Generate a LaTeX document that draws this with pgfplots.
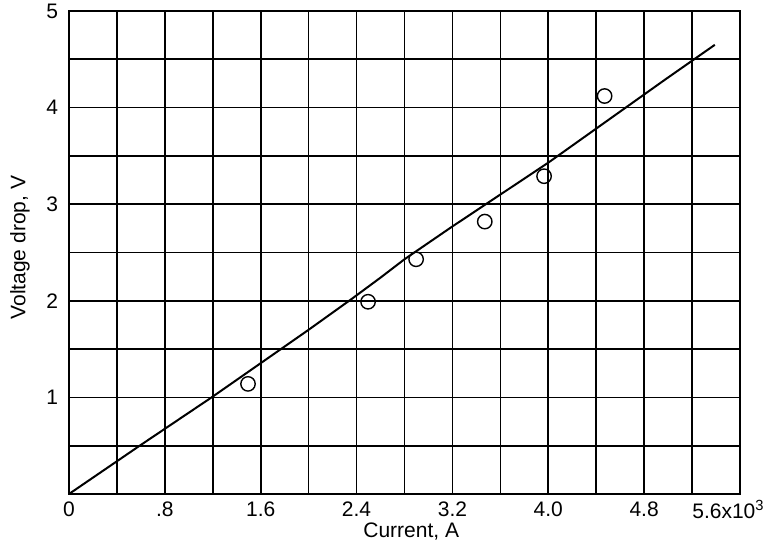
\documentclass[border=0pt]{standalone}
\usepackage{fontspec}
\setmainfont{Liberation Sans}
\usepackage{pgfplots}
\pgfplotsset{compat=1.18}
\begin{document}
\begin{tikzpicture}
\begin{axis}[
  scale only axis,
  width=335.5pt, height=241.5pt,
  xmin=0, xmax=5.6, ymin=0, ymax=5,
  xtick={0,0.4,...,5.6},
  xticklabels={0,,.8,,1.6,,2.4,,3.2,,4.0,,4.8,,},
  ytick={0,0.5,...,5},
  yticklabels={,,1,,2,,3,,4,,5},
  grid=major,
  major grid style={black, line width=0.85pt},
  axis line style={black, line width=1pt},
  major tick length=0pt,
  /pgf/number format/assume math mode=true,
  tick label style={font=\fontsize{10.5}{12}\selectfont},
  xticklabel style={text height=7.5pt, text depth=0pt, yshift=0pt},
  yticklabel style={xshift=-2pt},
  label style={font=\fontsize{10.5}{12}\selectfont},
  xlabel={Current, A},
  ylabel={Voltage drop, V},
  xlabel style={at={(axis description cs:0.51,-0.078)}, anchor=center},
  ylabel style={at={(axis description cs:-0.073,0.51)}, anchor=center},
  clip=false,
]
\coordinate (O) at (rel axis cs:0,0);
\addplot[black, line width=1pt, no markers] coordinates {
  (0,0) (0.59,0.5) (1.19,1.0) (2.0,1.70) (2.36,2.02) (2.6,2.24) (2.8,2.43)
  (3.2,2.77) (4.0,3.43) (4.975,4.29) (5.39,4.65)
};
\addplot[only marks, mark=o, mark size=3.6pt, black, line width=0.7pt] coordinates {
  (1.494,1.14) (2.496,1.99) (2.897,2.43) (3.47,2.82) (3.965,3.29) (4.47,4.12)
};
\node[anchor=north east, inner sep=0pt, text height=7.5pt, text depth=0pt,
  font=\fontsize{10.5}{12}\selectfont] at ([xshift=12.5pt, yshift=-4.5pt]rel axis cs:1,0) {5.6x10\textsuperscript{3}};
\end{axis}
\pgfresetboundingbox
\path ([shift={(-34.5pt,-26pt)}]O) rectangle ([shift={(349.5pt,247pt)}]O);
\end{tikzpicture}
\end{document}
